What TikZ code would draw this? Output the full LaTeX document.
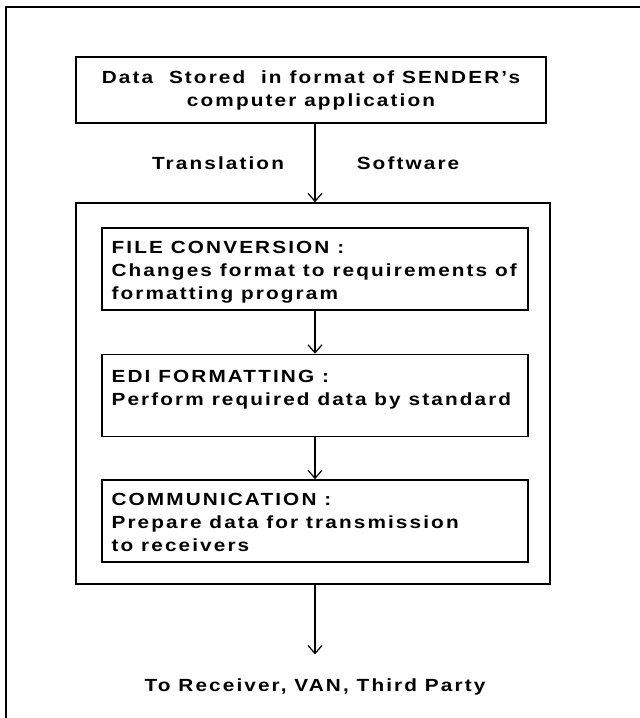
\documentclass[tikz,border=0pt]{standalone}
\usepackage{fontspec}
\setmainfont{Liberation Sans}[LetterSpace=12, FakeStretch=1.18]
\usetikzlibrary{arrows.meta, positioning}

\begin{document}
\begin{tikzpicture}[x=0.5pt, y=-0.5pt,
    font=\fontsize{8.8}{11.5}\selectfont\bfseries,
    box/.style={draw, line width=0.8pt, inner sep=0pt},
    stepbox/.style={box, minimum width=213pt, minimum height=41pt},
    lbl/.style={inner sep=0pt, align=left},
    arr/.style={-{Straight Barb[length=4pt, width=7pt]}, line width=0.6pt}]
    \useasboundingbox (0,0) rectangle (640,718);

    % page frame
    \draw[line width=1pt] (6,718) -- (6,7) -- (640,7);

    % sender data
    \node[box, align=center, minimum width=235pt, minimum height=33pt] (srcbox) at (311,90)
        {Data~ Stored~ in format of SENDER's\\computer application};
    \node (trl) at (218,163) {Translation};
    \node (sfw) at (408,163) {Software};

    % translation software
    \node[box, minimum width=237pt, minimum height=190.5pt] (swbox) at (313,393.5) {};

    \node[stepbox] (convbox) at (315,269) {};
    \node[lbl, below right=7pt and 5pt of convbox.north west] (convtxt)
        {FILE CONVERSION :\\Changes format to requirements of\\formatting program};

    \node[stepbox] (edibox) at (315,395.5) {};
    \node[lbl, below right=8pt and 5pt of edibox.north west] (editxt)
        {EDI FORMATTING :\\Perform required data by standard};

    \node[stepbox] (commbox) at (315,521) {};
    \node[lbl, below right=7pt and 5pt of commbox.north west] (commtxt)
        {COMMUNICATION :\\Prepare data for transmission\\to receivers};

    % receiver
    \node[inner sep=0pt] (dest) at (315,687) {To Receiver, VAN, Third Party};

    % flow
    \draw[arr] (srcbox.south -| convbox) -- (swbox.north -| convbox);
    \draw[arr] (convbox) -- (edibox);
    \draw[arr] (edibox) -- (commbox);
    \draw[arr, shorten >=12pt] (swbox.south -| dest) -- (dest.north);
\end{tikzpicture}
\end{document}
